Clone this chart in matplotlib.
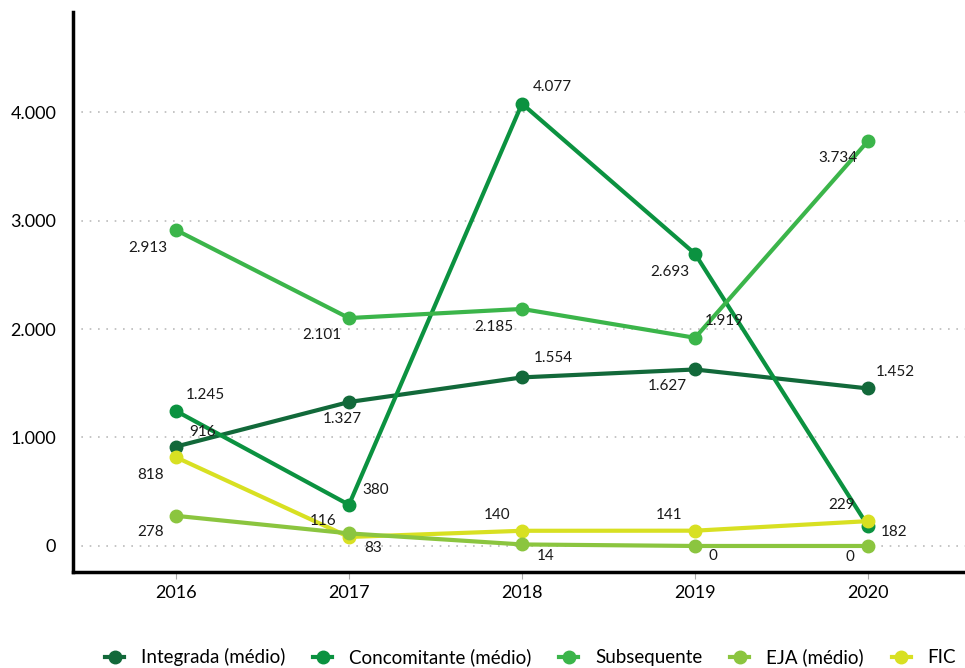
import matplotlib.pyplot as plt

plt.rcParams['font.family'] = ['Lato', 'DejaVu Sans']

years = [2016, 2017, 2018, 2019, 2020]
integrada = [916, 1327, 1554, 1627, 1452]
concomitante = [1245, 380, 4077, 2693, 182]
subsequente = [2913, 2101, 2185, 1919, 3734]
eja = [278, 116, 14, 0, 0]
fic = [818, 83, 140, 141, 229]

names = ['Integrada (médio)', 'Concomitante (médio)', 'Subsequente', 'EJA (médio)', 'FIC']
colors = ['#12693a', '#0b9240', '#3bb54a', '#8bc53f', '#d8e022']
series = [integrada, concomitante, subsequente, eja, fic]
zorders = [3, 4, 5, 7, 6]

# label offsets in pixels (dx, dy), dy positive = up
offsets = [
    [(27, 15), (-7, -17), (31, 19), (-28, -17), (27, 16)],
    [(29, 16), (27, 15), (30, 17), (-25, -18), (26, -6)],
    [(-28, -18), (-27, -17), (-28, -18), (29, 17), (-30, -17)],
    [(-25, -16), (-26, 12), (24, -12), (18, -10), (-18, -11)],
    [(-25, -18), (24, -11), (-25, 16), (-26, 16), (-26, 16)],
]


def fmt(v):
    return f"{v:,}".replace(",", ".")


def main():
    fig = plt.figure(figsize=(9.65, 6.68), dpi=100)
    ax = fig.add_axes([0.0756, 0.1437, 0.9244, 0.8383])

    for vals, name, c, z, offs in zip(series, names, colors, zorders, offsets):
        ax.plot(years, vals, '-o', color=c, lw=3, ms=9, label=name, zorder=z)
        for x, y, (dx, dy) in zip(years, vals, offs):
            ax.annotate(fmt(y), (x, y), xytext=(dx, dy), textcoords='offset pixels',
                        ha='center', va='center', fontsize=11, color='#1a1a1a', zorder=10)

    ax.set_xlim(2015.405, 2020.56)
    ax.set_ylim(-240, 4922)
    ax.set_xticks(years)
    ax.set_yticks([0, 1000, 2000, 3000, 4000])
    ax.set_yticklabels([fmt(v) for v in [0, 1000, 2000, 3000, 4000]])
    ax.tick_params(axis='y', length=0, labelsize=13, pad=12)
    ax.tick_params(axis='x', length=5, color='#aaaaaa', labelsize=13, pad=4, direction='out')
    ax.grid(axis='y', color='#bbbbbb', linestyle=(0, (1, 4)), lw=1.2)
    ax.set_axisbelow(True)

    for s in ['top', 'right']:
        ax.spines[s].set_visible(False)
    ax.spines['left'].set_linewidth(2.5)
    ax.spines['bottom'].set_linewidth(2.5)

    ax.legend(loc='center', bbox_to_anchor=(0.513, -0.152), ncol=5, frameon=False,
              fontsize=13.5, handlelength=1.0, columnspacing=1.5, handletextpad=0.9)

    fig.savefig('out.png', dpi=100)


if __name__ == "__main__":
    main()
